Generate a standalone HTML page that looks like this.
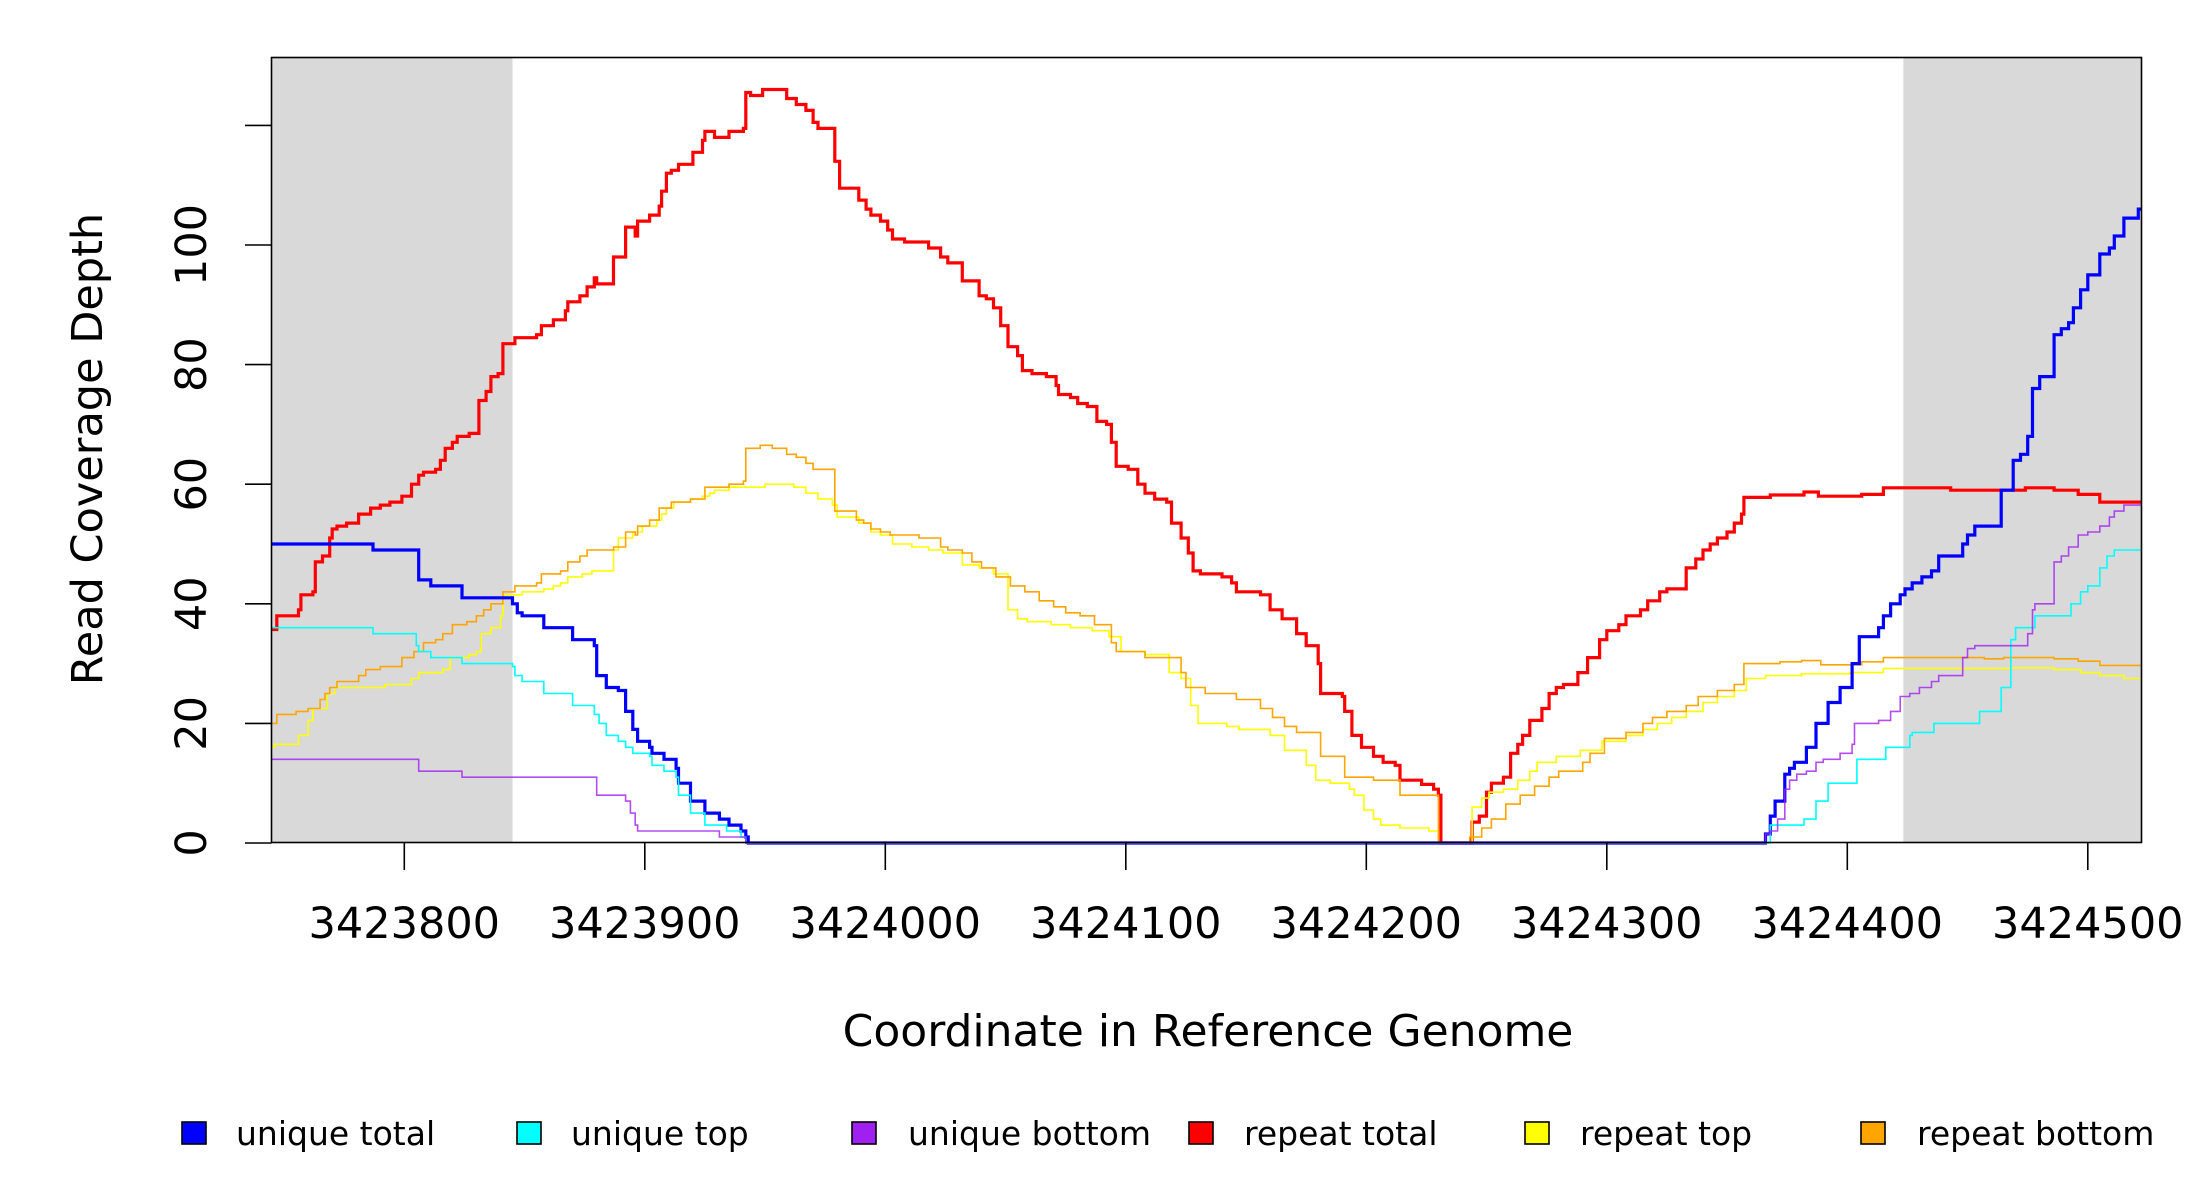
<!DOCTYPE html>
<html><head><meta charset="utf-8"><style>
html,body{margin:0;padding:0;background:#fff}
svg{display:block;font-family:"DejaVu Sans","Liberation Sans",sans-serif}
</style></head><body>
<svg id="chart" width="2200" height="1200" viewBox="0 0 2200 1200" xmlns="http://www.w3.org/2000/svg">
<rect x="0" y="0" width="2200" height="1200" fill="#fff"/>
<g id="shade"></g>
<g id="series"></g>
<rect x="271.5" y="57.5" width="1870" height="785" fill="none" stroke="#000" stroke-width="1.6"/>
<g id="axes"></g>
<text x="1208" y="1046" font-size="44" text-anchor="middle">Coordinate in Reference Genome</text>
<text transform="translate(102,449) rotate(-90)" font-size="43" text-anchor="middle">Read Coverage Depth</text>
<g id="legend"></g>
</svg>
<script>
const xTicks = [3423800,3423900,3424000,3424100,3424200,3424300,3424400,3424500];
const yTicks = [0,20,40,60,80,100,120];
const yTickLabels = ["0","20","40","60","80","100",""];
const xDomain = [3423744.8, 3424522.3];
const shadeRegions = [[3423744.8,3423845],[3424423.3,3424522.3]];
const seriesNames = ["repeat total","repeat top","repeat bottom","unique total","unique top","unique bottom"];

const redX = [3423745,3423747,3423756,3423757,3423762,3423763,3423766,3423769,3423770,3423772,3423776,3423781,3423786,3423790,3423794,3423799,3423803,3423806,3423808,3423813,3423815,3423817,3423820,3423822,3423827,3423831,3423834,3423836,3423839,3423841,3423846,3423855,3423857,3423862,3423867,3423868,3423873,3423876,3423879,3423880,3423887,3423892,3423896,3423897,3423902,3423906,3423907,3423909,3423911,3423914,3423920,3423924,3423925,3423929,3423935,3423941,3423942,3423944,3423949,3423959,3423963,3423967,3423970,3423972,3423979,3423981,3423989,3423992,3423994,3423998,3424001,3424003,3424008,3424018,3424023,3424026,3424032,3424039,3424042,3424045,3424048,3424051,3424055,3424057,3424061,3424067,3424071,3424072,3424077,3424080,3424084,3424088,3424092,3424094,3424096,3424101,3424105,3424108,3424112,3424117,3424119,3424123,3424126,3424128,3424131,3424140,3424144,3424146,3424156,3424160,3424165,3424171,3424175,3424180,3424181,3424190,3424191,3424194,3424198,3424203,3424207,3424212,3424214,3424223,3424228,3424230,3424231,3424244,3424247,3424250,3424252,3424257,3424260,3424263,3424265,3424268,3424273,3424276,3424279,3424282,3424288,3424292,3424297,3424300,3424305,3424308,3424314,3424317,3424322,3424325,3424333,3424337,3424340,3424343,3424346,3424350,3424353,3424356,3424357,3424368,3424382,3424388,3424406,3424415,3424443,3424474,3424486,3424496,3424505];
const redY = [35.7,38,39,41.5,42,47,48,51,52.5,53,53.5,55,56,56.5,57,58,60,61.5,62,62.5,64,66,67,68,68.5,74,75.5,78,78.5,83.5,84.5,85,86.5,87.5,89,90.5,91.5,93,94.5,93.5,98,103,101.5,104,105,106.5,109,112,112.5,113.5,115.5,117.5,119,118,119,119.5,125.5,125,126,124.5,123.5,122.5,120.5,119.5,114,109.5,107.5,106,105,104,102.5,101,100.5,99.5,98,97,94,91.5,91,89.5,86.5,83,81.5,79,78.5,78,76.5,75,74.5,73.5,73,70.5,70,67,63,62.5,60,58.5,57.5,57,53.5,51,48.5,45.5,45,44.5,43.5,42,41.5,39,37.5,35,33,30,25,24.5,22,18,16,14.5,13.5,13,10.5,9.8,9,8,0,3.5,4.5,8.5,10,11,15,16.5,18,20.5,22.5,25,26,26.5,28.5,31,34,35.5,36.5,38,39,40.5,42,42.5,46,47.5,49,50,51,52,53.5,55,57.8,58.2,58.7,58,58.3,59.4,59,59.4,59,58.3,57];

const yelX = [3423745,3423746,3423756,3423760,3423762,3423768,3423771,3423792,3423803,3423806,3423816,3423819,3423827,3423830,3423832,3423836,3423840,3423841,3423849,3423858,3423862,3423865,3423868,3423874,3423878,3423887,3423889,3423895,3423899,3423905,3423907,3423909,3423912,3423919,3423924,3423927,3423929,3423935,3423950,3423962,3423967,3423972,3423978,3423980,3423989,3423994,3423998,3424003,3424011,3424018,3424024,3424032,3424039,3424045,3424051,3424055,3424059,3424069,3424077,3424086,3424093,3424098,3424108,3424118,3424123,3424127,3424130,3424142,3424147,3424160,3424166,3424175,3424179,3424185,3424193,3424195,3424199,3424203,3424206,3424214,3424226,3424230,3424244,3424248,3424251,3424257,3424263,3424268,3424271,3424279,3424289,3424298,3424308,3424315,3424321,3424327,3424333,3424340,3424346,3424353,3424358,3424366,3424381,3424401,3424415,3424468,3424486,3424497,3424505,3424515];
const yelY = [16,16.5,18,20.5,22.5,25,26,26.5,27.5,28.5,29,31,31.5,32,35,36,38,41.5,42,42.5,43,43.5,44.5,45,45.5,49,51,52,53,54,55,56,57,57.5,58,58.5,59,59.5,60,59.5,58.5,57.5,56.5,54.5,53.5,52,51.5,50,49.5,49,48.5,46.5,46,45,39,37.5,37,36.5,36,35.5,34.5,32,31.5,28.5,27.5,23,20,19.5,19,18,15.5,13,10.5,10,9,8,5.5,4,3,2.5,2,0,6,7.5,8.5,9,10.5,12,13.5,14.5,15.5,17,18,19,20,21,22,23.5,24.5,25.5,27.5,28,28.3,28.5,29.2,29.3,29,28.5,28,27.5];

const orgX = [3423745,3423747,3423755,3423760,3423765,3423767,3423769,3423772,3423781,3423784,3423790,3423799,3423804,3423808,3423813,3423816,3423820,3423826,3423830,3423833,3423836,3423841,3423846,3423855,3423857,3423865,3423868,3423873,3423876,3423887,3423892,3423896,3423897,3423902,3423906,3423911,3423919,3423925,3423935,3423941,3423942,3423948,3423953,3423959,3423963,3423967,3423970,3423979,3423988,3423991,3423994,3423998,3424002,3424014,3424023,3424026,3424032,3424036,3424040,3424046,3424052,3424058,3424064,3424070,3424075,3424081,3424087,3424094,3424096,3424108,3424123,3424125,3424133,3424146,3424156,3424161,3424166,3424171,3424181,3424191,3424203,3424214,3424230,3424243,3424248,3424252,3424258,3424264,3424270,3424276,3424280,3424290,3424293,3424299,3424308,3424315,3424319,3424325,3424333,3424338,3424346,3424353,3424357,3424372,3424381,3424389,3424406,3424415,3424457,3424465,3424486,3424496,3424505];
const orgY = [20,21.5,22,22.5,24,25,26,27,28,29,29.5,31,32,33.5,34,35,36.5,37,38,39,40,42,43,43.5,45,45.5,47,48,49,49.5,52,51.5,53,54,56,57,57.5,59.5,60,60.5,66,66.5,66,65,64.5,63.5,62.5,55.5,54,53.5,52.5,52,51.5,51,49.5,49,48.5,47,46,44.5,43,42,40.5,39.5,38.5,38,36.5,33.5,32,31,28.5,26,25,24,22.5,21,19.5,18.5,14.5,11,10.5,8,0,1,2.5,4,6.5,8,9.5,11,12,13.5,15,17.5,18.5,20,21,22,23,24.5,25.5,26.5,30,30.3,30.5,29.8,30.3,31,30.8,31,30.8,30.4,29.7];

const bluX = [3423745,3423787,3423806,3423811,3423824,3423845,3423847,3423849,3423858,3423870,3423879,3423880,3423884,3423889,3423892,3423895,3423897,3423902,3423903,3423908,3423913,3423914,3423919,3423925,3423931,3423935,3423940,3423942,3423943,3424366,3424368,3424370,3424374,3424376,3424378,3424383,3424387,3424392,3424397,3424402,3424405,3424413,3424415,3424418,3424422,3424424,3424427,3424431,3424435,3424438,3424448,3424450,3424453,3424464,3424469,3424472,3424475,3424477,3424480,3424486,3424489,3424492,3424494,3424497,3424500,3424505,3424509,3424511,3424515,3424521];
const bluY = [50,49,44,43,41,40,38.5,38,36,34,33,28,26,25.5,22,19,17,16,15,14,12.5,10,7,5,4,3,2,1,0,1.5,4.5,7,11.5,12.5,13.5,16,20,23.5,26,30,34.5,36,38,40,41.5,42.5,43.5,44.5,45.5,48,50,51.5,53,59,64,65,68,76,78,85,86,87,89.5,92.5,95,98.5,99.5,101.5,104.5,106];

const cyaX = [3423745,3423787,3423805,3423806,3423811,3423824,3423845,3423846,3423849,3423858,3423870,3423879,3423881,3423884,3423889,3423892,3423895,3423902,3423903,3423908,3423913,3423914,3423919,3423925,3423934,3423940,3423942,3424368,3424382,3424387,3424392,3424404,3424416,3424426,3424427,3424436,3424455,3424464,3424468,3424470,3424478,3424493,3424497,3424500,3424505,3424508,3424511];
const cyaY = [36,35,33,32,31,30,29.5,28,27,25,23,21.5,20,18,17,16,15,14.5,13,12,11,8,5,3,2,1,0,3,4,7,10,14,16,18,18.5,20,22,26,34,36,38,40,42,43,46,48,49];

const purX = [3423745,3423806,3423824,3423880,3423892,3423894,3423896,3423897,3423931,3423942,3424366,3424368,3424371,3424374,3424376,3424379,3424383,3424387,3424390,3424397,3424402,3424403,3424413,3424418,3424422,3424426,3424430,3424435,3424438,3424448,3424450,3424453,3424475,3424477,3424478,3424486,3424489,3424492,3424496,3424500,3424505,3424509,3424511,3424515];
const purY = [14,12,11,8,7,5,3,2,1,0,1.5,2,4,9,10.5,11.5,12,13.5,14,15,16.5,20,20.5,22,24.5,25,26,27,28,31,32.5,33,35,39,40,47,48,49.5,51.5,52,53,54.5,55.5,56.5];

const NS = "http://www.w3.org/2000/svg";
const PL = 271.5, PR = 2141.5, PT = 57.5, PB = 842.5;
function xs(c){ return 404.3 + (c - 3423800) * 2.405; }
function ys(v){ return 843 - v * 5.98; }

const shade = document.getElementById('shade');
shadeRegions.forEach((r, i) => {
  const el = document.createElementNS(NS, 'rect');
  
  
  el.setAttribute('x', Math.max(PL, xs(r[0])));
  el.setAttribute('y', PT);
  el.setAttribute('width', Math.min(PR, xs(r[1])) - Math.max(PL, xs(r[0])));
  el.setAttribute('height', PB - PT);
  el.setAttribute('fill', '#d9d9d9');
  shade.appendChild(el);
});

function stepPath(xArr, yArr){
  let d = 'M' + xs(xArr[0]).toFixed(1) + ' ' + ys(yArr[0]).toFixed(1);
  for (let i = 1; i < xArr.length; i++){
    const x = xs(xArr[i]).toFixed(1);
    d += ' H' + x + ' V' + ys(yArr[i]).toFixed(1);
  }
  d += ' H' + xs(xDomain[1]).toFixed(1);
  return d;
}
const seriesG = document.getElementById('series');
function addSeries(name, xArr, yArr, color, w, op){
  const p = document.createElementNS(NS, 'path');
  
  
  p.setAttribute('d', stepPath(xArr, yArr));
  p.setAttribute('fill', 'none');
  p.setAttribute('stroke', color);
  p.setAttribute('stroke-width', w);
  if (op) p.setAttribute('stroke-opacity', op);
  seriesG.appendChild(p);
}
addSeries('repeat-total-line', redX, redY, '#ff0000', 3.2);
addSeries('repeat-top-line', yelX, yelY, '#ffff00', 1.6);
addSeries('repeat-bottom-line', orgX, orgY, '#ffa500', 1.6);
addSeries('unique-total-line', bluX, bluY, '#0000ff', 3.2);
addSeries('unique-top-line', cyaX, cyaY, '#00ffff', 1.6);
addSeries('unique-bottom-line', purX, purY, '#a020f0', 1.6, 0.8);

const axes = document.getElementById('axes');
yTicks.forEach((t, i) => {
  const y = ys(t);
  const ln = document.createElementNS(NS, 'line');
  
  
  ln.setAttribute('x1', 245); ln.setAttribute('x2', PL);
  ln.setAttribute('y1', y); ln.setAttribute('y2', y);
  ln.setAttribute('stroke', '#000'); ln.setAttribute('stroke-width', 1.6);
  axes.appendChild(ln);
  if (yTickLabels[i]) {
    const tx = document.createElementNS(NS, 'text');
    
    
    tx.setAttribute('transform', 'translate(206,' + y + ') rotate(-90)');
    tx.setAttribute('font-size', 43);
    tx.setAttribute('text-anchor', 'middle');
    tx.textContent = yTickLabels[i];
    axes.appendChild(tx);
  }
});
xTicks.forEach(t => {
  const x = xs(t);
  const ln = document.createElementNS(NS, 'line');
  
  
  ln.setAttribute('x1', x); ln.setAttribute('x2', x);
  ln.setAttribute('y1', PB); ln.setAttribute('y2', 870);
  ln.setAttribute('stroke', '#000'); ln.setAttribute('stroke-width', 1.6);
  axes.appendChild(ln);
  const tx = document.createElementNS(NS, 'text');
  
  
  tx.setAttribute('x', x); tx.setAttribute('y', 938);
  tx.setAttribute('font-size', 43);
  tx.setAttribute('text-anchor', 'middle');
  tx.textContent = String(t);
  axes.appendChild(tx);
});

const legendItems = [
  ['unique total', '#0000ff', 182, 236],
  ['unique top', '#00ffff', 517, 571],
  ['unique bottom', '#a020f0', 852, 908],
  ['repeat total', '#ff0000', 1189, 1244],
  ['repeat top', '#ffff00', 1525, 1580],
  ['repeat bottom', '#ffa500', 1861, 1917]
];
const leg = document.getElementById('legend');
legendItems.forEach(it => {
  const g = document.createElementNS(NS, 'g');
  
  
  const r = document.createElementNS(NS, 'rect');
  
  
  r.setAttribute('x', it[2]); r.setAttribute('y', 1122);
  r.setAttribute('width', 24); r.setAttribute('height', 22);
  r.setAttribute('fill', it[1]); r.setAttribute('stroke', '#000'); r.setAttribute('stroke-width', 1.6);
  g.appendChild(r);
  const tx = document.createElementNS(NS, 'text');
  
  
  tx.setAttribute('x', it[3]); tx.setAttribute('y', 1145);
  tx.setAttribute('font-size', 33);
  tx.textContent = it[0];
  g.appendChild(tx);
  leg.appendChild(g);
});
</script>
</body></html>
